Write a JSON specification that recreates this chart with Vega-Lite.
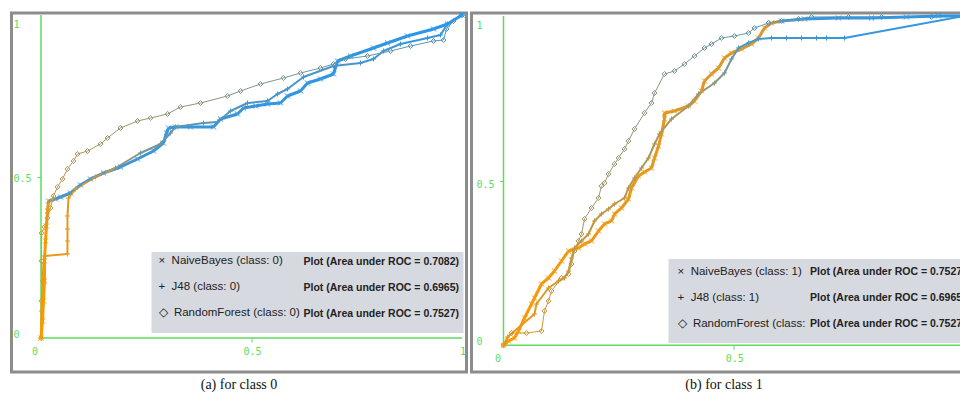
{
  "$schema": "https://vega.github.io/schema/vega-lite/v6.json",
  "background": "white",
  "padding": {"left": 9.5, "top": 8, "right": 0, "bottom": 0},
  "spacing": 1,
  "config": {
    "view": {"stroke": "#8c8c8c", "strokeWidth": 3},
    "title": {"font": "Liberation Serif", "fontSize": 14, "fontWeight": "normal", "color": "#111111", "orient": "bottom", "offset": 6, "anchor": "middle"}
  },
  "datasets": {
    "rocA": [
      {"classifier": "NaiveBayes", "fpr": 0, "tpr": 0, "threshold": 1},
      {"classifier": "NaiveBayes", "fpr": 0.0036, "tpr": 0.0526, "threshold": 0.99},
      {"classifier": "NaiveBayes", "fpr": 0.0059, "tpr": 0.1146, "threshold": 0.98},
      {"classifier": "NaiveBayes", "fpr": 0.0083, "tpr": 0.1765, "threshold": 0.97},
      {"classifier": "NaiveBayes", "fpr": 0.0083, "tpr": 0.2384, "threshold": 0.96},
      {"classifier": "NaiveBayes", "fpr": 0.0107, "tpr": 0.3003, "threshold": 0.95},
      {"classifier": "NaiveBayes", "fpr": 0.0131, "tpr": 0.3467, "threshold": 0.93},
      {"classifier": "NaiveBayes", "fpr": 0.0154, "tpr": 0.3932, "threshold": 0.9},
      {"classifier": "NaiveBayes", "fpr": 0.0178, "tpr": 0.4241, "threshold": 0.5},
      {"classifier": "NaiveBayes", "fpr": 0.0344, "tpr": 0.4303, "threshold": 0.14},
      {"classifier": "NaiveBayes", "fpr": 0.0463, "tpr": 0.4365, "threshold": 0.12},
      {"classifier": "NaiveBayes", "fpr": 0.0701, "tpr": 0.4489, "threshold": 0.11},
      {"classifier": "NaiveBayes", "fpr": 0.0938, "tpr": 0.4737, "threshold": 0.1},
      {"classifier": "NaiveBayes", "fpr": 0.1176, "tpr": 0.4923, "threshold": 0.1},
      {"classifier": "NaiveBayes", "fpr": 0.1485, "tpr": 0.5108, "threshold": 0.09},
      {"classifier": "NaiveBayes", "fpr": 0.1888, "tpr": 0.5294, "threshold": 0.09},
      {"classifier": "NaiveBayes", "fpr": 0.2292, "tpr": 0.5542, "threshold": 0.08},
      {"classifier": "NaiveBayes", "fpr": 0.2672, "tpr": 0.5789, "threshold": 0.08},
      {"classifier": "NaiveBayes", "fpr": 0.291, "tpr": 0.6037, "threshold": 0.07},
      {"classifier": "NaiveBayes", "fpr": 0.2981, "tpr": 0.6347, "threshold": 0.07},
      {"classifier": "NaiveBayes", "fpr": 0.3029, "tpr": 0.6502, "threshold": 0.07},
      {"classifier": "NaiveBayes", "fpr": 0.3195, "tpr": 0.6533, "threshold": 0.06},
      {"classifier": "NaiveBayes", "fpr": 0.3551, "tpr": 0.6533, "threshold": 0.06},
      {"classifier": "NaiveBayes", "fpr": 0.4097, "tpr": 0.6533, "threshold": 0.06},
      {"classifier": "NaiveBayes", "fpr": 0.4264, "tpr": 0.678, "threshold": 0.05},
      {"classifier": "NaiveBayes", "fpr": 0.4667, "tpr": 0.6935, "threshold": 0.05},
      {"classifier": "NaiveBayes", "fpr": 0.481, "tpr": 0.7121, "threshold": 0.05},
      {"classifier": "NaiveBayes", "fpr": 0.5095, "tpr": 0.7183, "threshold": 0.04},
      {"classifier": "NaiveBayes", "fpr": 0.538, "tpr": 0.7245, "threshold": 0.04},
      {"classifier": "NaiveBayes", "fpr": 0.5689, "tpr": 0.7276, "threshold": 0.04},
      {"classifier": "NaiveBayes", "fpr": 0.5855, "tpr": 0.7492, "threshold": 0.03},
      {"classifier": "NaiveBayes", "fpr": 0.6164, "tpr": 0.7647, "threshold": 0.03},
      {"classifier": "NaiveBayes", "fpr": 0.633, "tpr": 0.7895, "threshold": 0.03},
      {"classifier": "NaiveBayes", "fpr": 0.6639, "tpr": 0.8019, "threshold": 0.03},
      {"classifier": "NaiveBayes", "fpr": 0.6948, "tpr": 0.8173, "threshold": 0.02},
      {"classifier": "NaiveBayes", "fpr": 0.7043, "tpr": 0.8576, "threshold": 0.02},
      {"classifier": "NaiveBayes", "fpr": 0.7352, "tpr": 0.8731, "threshold": 0.02},
      {"classifier": "NaiveBayes", "fpr": 0.7898, "tpr": 0.8978, "threshold": 0.02},
      {"classifier": "NaiveBayes", "fpr": 0.823, "tpr": 0.9133, "threshold": 0.01},
      {"classifier": "NaiveBayes", "fpr": 0.8705, "tpr": 0.935, "threshold": 0.01},
      {"classifier": "NaiveBayes", "fpr": 0.9323, "tpr": 0.9567, "threshold": 0.01},
      {"classifier": "NaiveBayes", "fpr": 0.9656, "tpr": 0.9721, "threshold": 0},
      {"classifier": "NaiveBayes", "fpr": 1, "tpr": 1, "threshold": 0},
      {"classifier": "J48", "fpr": 0, "tpr": 0, "threshold": 0.95},
      {"classifier": "J48", "fpr": 0.0012, "tpr": 0.0836, "threshold": 0.94},
      {"classifier": "J48", "fpr": 0.0036, "tpr": 0.1765, "threshold": 0.93},
      {"classifier": "J48", "fpr": 0.0059, "tpr": 0.2322, "threshold": 0.92},
      {"classifier": "J48", "fpr": 0.0083, "tpr": 0.2539, "threshold": 0.9},
      {"classifier": "J48", "fpr": 0.0629, "tpr": 0.2601, "threshold": 0.89},
      {"classifier": "J48", "fpr": 0.0629, "tpr": 0.3003, "threshold": 0.88},
      {"classifier": "J48", "fpr": 0.0629, "tpr": 0.3375, "threshold": 0.87},
      {"classifier": "J48", "fpr": 0.0629, "tpr": 0.3777, "threshold": 0.86},
      {"classifier": "J48", "fpr": 0.0653, "tpr": 0.4334, "threshold": 0.85},
      {"classifier": "J48", "fpr": 0.0819, "tpr": 0.4613, "threshold": 0.8},
      {"classifier": "J48", "fpr": 0.1295, "tpr": 0.4985, "threshold": 0.7},
      {"classifier": "J48", "fpr": 0.177, "tpr": 0.5263, "threshold": 0.45},
      {"classifier": "J48", "fpr": 0.2363, "tpr": 0.5728, "threshold": 0.35},
      {"classifier": "J48", "fpr": 0.2838, "tpr": 0.6006, "threshold": 0.3},
      {"classifier": "J48", "fpr": 0.3076, "tpr": 0.6347, "threshold": 0.28},
      {"classifier": "J48", "fpr": 0.3195, "tpr": 0.6533, "threshold": 0.26},
      {"classifier": "J48", "fpr": 0.386, "tpr": 0.6656, "threshold": 0.24},
      {"classifier": "J48", "fpr": 0.4192, "tpr": 0.6687, "threshold": 0.22},
      {"classifier": "J48", "fpr": 0.4501, "tpr": 0.7028, "threshold": 0.2},
      {"classifier": "J48", "fpr": 0.4905, "tpr": 0.7276, "threshold": 0.18},
      {"classifier": "J48", "fpr": 0.538, "tpr": 0.7337, "threshold": 0.16},
      {"classifier": "J48", "fpr": 0.5618, "tpr": 0.7554, "threshold": 0.15},
      {"classifier": "J48", "fpr": 0.5855, "tpr": 0.7709, "threshold": 0.14},
      {"classifier": "J48", "fpr": 0.6235, "tpr": 0.808, "threshold": 0.13},
      {"classifier": "J48", "fpr": 0.6948, "tpr": 0.8421, "threshold": 0.12},
      {"classifier": "J48", "fpr": 0.7589, "tpr": 0.8514, "threshold": 0.1},
      {"classifier": "J48", "fpr": 0.7898, "tpr": 0.8638, "threshold": 0.09},
      {"classifier": "J48", "fpr": 0.8135, "tpr": 0.8885, "threshold": 0.08},
      {"classifier": "J48", "fpr": 0.8539, "tpr": 0.9102, "threshold": 0.07},
      {"classifier": "J48", "fpr": 0.9181, "tpr": 0.9288, "threshold": 0.05},
      {"classifier": "J48", "fpr": 0.9489, "tpr": 0.9381, "threshold": 0.04},
      {"classifier": "J48", "fpr": 0.9656, "tpr": 0.9721, "threshold": 0.02},
      {"classifier": "J48", "fpr": 1, "tpr": 1, "threshold": 0},
      {"classifier": "RandomForest", "fpr": 0, "tpr": 0, "threshold": 0.95},
      {"classifier": "RandomForest", "fpr": 0.0012, "tpr": 0.1146, "threshold": 0.92},
      {"classifier": "RandomForest", "fpr": 0.0012, "tpr": 0.2384, "threshold": 0.9},
      {"classifier": "RandomForest", "fpr": 0.0012, "tpr": 0.3251, "threshold": 0.88},
      {"classifier": "RandomForest", "fpr": 0.0083, "tpr": 0.3437, "threshold": 0.85},
      {"classifier": "RandomForest", "fpr": 0.0154, "tpr": 0.3715, "threshold": 0.8},
      {"classifier": "RandomForest", "fpr": 0.0226, "tpr": 0.4025, "threshold": 0.75},
      {"classifier": "RandomForest", "fpr": 0.0297, "tpr": 0.4396, "threshold": 0.7},
      {"classifier": "RandomForest", "fpr": 0.0392, "tpr": 0.4675, "threshold": 0.68},
      {"classifier": "RandomForest", "fpr": 0.0511, "tpr": 0.4923, "threshold": 0.66},
      {"classifier": "RandomForest", "fpr": 0.0629, "tpr": 0.5232, "threshold": 0.64},
      {"classifier": "RandomForest", "fpr": 0.0772, "tpr": 0.548, "threshold": 0.62},
      {"classifier": "RandomForest", "fpr": 0.0867, "tpr": 0.5697, "threshold": 0.6},
      {"classifier": "RandomForest", "fpr": 0.1105, "tpr": 0.5789, "threshold": 0.58},
      {"classifier": "RandomForest", "fpr": 0.1413, "tpr": 0.6006, "threshold": 0.56},
      {"classifier": "RandomForest", "fpr": 0.158, "tpr": 0.6192, "threshold": 0.55},
      {"classifier": "RandomForest", "fpr": 0.1888, "tpr": 0.6502, "threshold": 0.53},
      {"classifier": "RandomForest", "fpr": 0.2292, "tpr": 0.6718, "threshold": 0.51},
      {"classifier": "RandomForest", "fpr": 0.2601, "tpr": 0.6811, "threshold": 0.5},
      {"classifier": "RandomForest", "fpr": 0.3005, "tpr": 0.6935, "threshold": 0.48},
      {"classifier": "RandomForest", "fpr": 0.3314, "tpr": 0.7152, "threshold": 0.46},
      {"classifier": "RandomForest", "fpr": 0.3789, "tpr": 0.7276, "threshold": 0.44},
      {"classifier": "RandomForest", "fpr": 0.443, "tpr": 0.7492, "threshold": 0.42},
      {"classifier": "RandomForest", "fpr": 0.4739, "tpr": 0.7647, "threshold": 0.4},
      {"classifier": "RandomForest", "fpr": 0.5214, "tpr": 0.7864, "threshold": 0.38},
      {"classifier": "RandomForest", "fpr": 0.576, "tpr": 0.805, "threshold": 0.36},
      {"classifier": "RandomForest", "fpr": 0.6164, "tpr": 0.8204, "threshold": 0.34},
      {"classifier": "RandomForest", "fpr": 0.6639, "tpr": 0.8359, "threshold": 0.32},
      {"classifier": "RandomForest", "fpr": 0.6948, "tpr": 0.8483, "threshold": 0.3},
      {"classifier": "RandomForest", "fpr": 0.7233, "tpr": 0.8638, "threshold": 0.28},
      {"classifier": "RandomForest", "fpr": 0.7755, "tpr": 0.8731, "threshold": 0.26},
      {"classifier": "RandomForest", "fpr": 0.8302, "tpr": 0.8885, "threshold": 0.24},
      {"classifier": "RandomForest", "fpr": 0.8777, "tpr": 0.904, "threshold": 0.22},
      {"classifier": "RandomForest", "fpr": 0.9323, "tpr": 0.9195, "threshold": 0.2},
      {"classifier": "RandomForest", "fpr": 0.9561, "tpr": 0.9226, "threshold": 0.18},
      {"classifier": "RandomForest", "fpr": 0.9632, "tpr": 0.9567, "threshold": 0.15},
      {"classifier": "RandomForest", "fpr": 0.9798, "tpr": 0.9814, "threshold": 0.1},
      {"classifier": "RandomForest", "fpr": 1, "tpr": 1, "threshold": 0.05}
    ],
    "rocB": [
      {"classifier": "NaiveBayes", "fpr": 0, "tpr": 0, "threshold": 1},
      {"classifier": "NaiveBayes", "fpr": 0.0109, "tpr": 0.0131, "threshold": 0.99},
      {"classifier": "NaiveBayes", "fpr": 0.0239, "tpr": 0.0222, "threshold": 0.99},
      {"classifier": "NaiveBayes", "fpr": 0.0326, "tpr": 0.0434, "threshold": 0.98},
      {"classifier": "NaiveBayes", "fpr": 0.0457, "tpr": 0.0829, "threshold": 0.98},
      {"classifier": "NaiveBayes", "fpr": 0.0609, "tpr": 0.1254, "threshold": 0.97},
      {"classifier": "NaiveBayes", "fpr": 0.0674, "tpr": 0.1436, "threshold": 0.97},
      {"classifier": "NaiveBayes", "fpr": 0.0826, "tpr": 0.1862, "threshold": 0.96},
      {"classifier": "NaiveBayes", "fpr": 0.0978, "tpr": 0.2044, "threshold": 0.96},
      {"classifier": "NaiveBayes", "fpr": 0.1109, "tpr": 0.2256, "threshold": 0.95},
      {"classifier": "NaiveBayes", "fpr": 0.1261, "tpr": 0.256, "threshold": 0.95},
      {"classifier": "NaiveBayes", "fpr": 0.1413, "tpr": 0.2864, "threshold": 0.94},
      {"classifier": "NaiveBayes", "fpr": 0.163, "tpr": 0.2955, "threshold": 0.94},
      {"classifier": "NaiveBayes", "fpr": 0.1761, "tpr": 0.3077, "threshold": 0.93},
      {"classifier": "NaiveBayes", "fpr": 0.1913, "tpr": 0.3168, "threshold": 0.93},
      {"classifier": "NaiveBayes", "fpr": 0.2065, "tpr": 0.3471, "threshold": 0.92},
      {"classifier": "NaiveBayes", "fpr": 0.2196, "tpr": 0.3684, "threshold": 0.92},
      {"classifier": "NaiveBayes", "fpr": 0.2348, "tpr": 0.3775, "threshold": 0.91},
      {"classifier": "NaiveBayes", "fpr": 0.2413, "tpr": 0.3987, "threshold": 0.91},
      {"classifier": "NaiveBayes", "fpr": 0.2565, "tpr": 0.417, "threshold": 0.9},
      {"classifier": "NaiveBayes", "fpr": 0.2717, "tpr": 0.4443, "threshold": 0.9},
      {"classifier": "NaiveBayes", "fpr": 0.2783, "tpr": 0.4777, "threshold": 0.9},
      {"classifier": "NaiveBayes", "fpr": 0.2935, "tpr": 0.5142, "threshold": 0.89},
      {"classifier": "NaiveBayes", "fpr": 0.3065, "tpr": 0.5263, "threshold": 0.89},
      {"classifier": "NaiveBayes", "fpr": 0.3217, "tpr": 0.5384, "threshold": 0.88},
      {"classifier": "NaiveBayes", "fpr": 0.3283, "tpr": 0.5688, "threshold": 0.88},
      {"classifier": "NaiveBayes", "fpr": 0.337, "tpr": 0.6052, "threshold": 0.88},
      {"classifier": "NaiveBayes", "fpr": 0.3435, "tpr": 0.6417, "threshold": 0.87},
      {"classifier": "NaiveBayes", "fpr": 0.35, "tpr": 0.6873, "threshold": 0.87},
      {"classifier": "NaiveBayes", "fpr": 0.35, "tpr": 0.7055, "threshold": 0.87},
      {"classifier": "NaiveBayes", "fpr": 0.3717, "tpr": 0.7115, "threshold": 0.86},
      {"classifier": "NaiveBayes", "fpr": 0.4022, "tpr": 0.7267, "threshold": 0.86},
      {"classifier": "NaiveBayes", "fpr": 0.4152, "tpr": 0.7419, "threshold": 0.86},
      {"classifier": "NaiveBayes", "fpr": 0.4304, "tpr": 0.7722, "threshold": 0.85},
      {"classifier": "NaiveBayes", "fpr": 0.437, "tpr": 0.8026, "threshold": 0.85},
      {"classifier": "NaiveBayes", "fpr": 0.4522, "tpr": 0.8239, "threshold": 0.85},
      {"classifier": "NaiveBayes", "fpr": 0.4674, "tpr": 0.8421, "threshold": 0.84},
      {"classifier": "NaiveBayes", "fpr": 0.4804, "tpr": 0.8725, "threshold": 0.84},
      {"classifier": "NaiveBayes", "fpr": 0.4957, "tpr": 0.8876, "threshold": 0.84},
      {"classifier": "NaiveBayes", "fpr": 0.5174, "tpr": 0.8998, "threshold": 0.83},
      {"classifier": "NaiveBayes", "fpr": 0.5391, "tpr": 0.915, "threshold": 0.83},
      {"classifier": "NaiveBayes", "fpr": 0.5543, "tpr": 0.9332, "threshold": 0.82},
      {"classifier": "NaiveBayes", "fpr": 0.5674, "tpr": 0.9636, "threshold": 0.8},
      {"classifier": "NaiveBayes", "fpr": 0.5826, "tpr": 0.9788, "threshold": 0.75},
      {"classifier": "NaiveBayes", "fpr": 0.6043, "tpr": 0.9848, "threshold": 0.2},
      {"classifier": "NaiveBayes", "fpr": 0.6543, "tpr": 0.9909, "threshold": 0.1},
      {"classifier": "NaiveBayes", "fpr": 0.7283, "tpr": 0.9939, "threshold": 0.08},
      {"classifier": "NaiveBayes", "fpr": 0.8, "tpr": 0.9939, "threshold": 0.06},
      {"classifier": "NaiveBayes", "fpr": 0.8761, "tpr": 0.997, "threshold": 0.04},
      {"classifier": "NaiveBayes", "fpr": 0.9457, "tpr": 1, "threshold": 0.02},
      {"classifier": "NaiveBayes", "fpr": 1, "tpr": 1, "threshold": 0},
      {"classifier": "J48", "fpr": 0, "tpr": 0, "threshold": 0.9},
      {"classifier": "J48", "fpr": 0.0087, "tpr": 0.0252, "threshold": 0.88},
      {"classifier": "J48", "fpr": 0.0674, "tpr": 0.095, "threshold": 0.85},
      {"classifier": "J48", "fpr": 0.0717, "tpr": 0.1254, "threshold": 0.84},
      {"classifier": "J48", "fpr": 0.0978, "tpr": 0.174, "threshold": 0.8},
      {"classifier": "J48", "fpr": 0.1196, "tpr": 0.1953, "threshold": 0.78},
      {"classifier": "J48", "fpr": 0.1326, "tpr": 0.2044, "threshold": 0.77},
      {"classifier": "J48", "fpr": 0.1413, "tpr": 0.2256, "threshold": 0.76},
      {"classifier": "J48", "fpr": 0.1478, "tpr": 0.2651, "threshold": 0.75},
      {"classifier": "J48", "fpr": 0.1543, "tpr": 0.2955, "threshold": 0.74},
      {"classifier": "J48", "fpr": 0.1696, "tpr": 0.3167, "threshold": 0.73},
      {"classifier": "J48", "fpr": 0.1848, "tpr": 0.338, "threshold": 0.72},
      {"classifier": "J48", "fpr": 0.1978, "tpr": 0.3775, "threshold": 0.71},
      {"classifier": "J48", "fpr": 0.213, "tpr": 0.3987, "threshold": 0.7},
      {"classifier": "J48", "fpr": 0.2283, "tpr": 0.4139, "threshold": 0.69},
      {"classifier": "J48", "fpr": 0.2413, "tpr": 0.4291, "threshold": 0.68},
      {"classifier": "J48", "fpr": 0.263, "tpr": 0.4473, "threshold": 0.67},
      {"classifier": "J48", "fpr": 0.2717, "tpr": 0.4777, "threshold": 0.66},
      {"classifier": "J48", "fpr": 0.2848, "tpr": 0.5081, "threshold": 0.65},
      {"classifier": "J48", "fpr": 0.3, "tpr": 0.5385, "threshold": 0.64},
      {"classifier": "J48", "fpr": 0.3152, "tpr": 0.5688, "threshold": 0.63},
      {"classifier": "J48", "fpr": 0.3283, "tpr": 0.6113, "threshold": 0.62},
      {"classifier": "J48", "fpr": 0.3391, "tpr": 0.6417, "threshold": 0.61},
      {"classifier": "J48", "fpr": 0.3652, "tpr": 0.6873, "threshold": 0.58},
      {"classifier": "J48", "fpr": 0.4022, "tpr": 0.7267, "threshold": 0.55},
      {"classifier": "J48", "fpr": 0.4239, "tpr": 0.7631, "threshold": 0.52},
      {"classifier": "J48", "fpr": 0.4587, "tpr": 0.7965, "threshold": 0.45},
      {"classifier": "J48", "fpr": 0.4804, "tpr": 0.8269, "threshold": 0.35},
      {"classifier": "J48", "fpr": 0.4957, "tpr": 0.8695, "threshold": 0.25},
      {"classifier": "J48", "fpr": 0.5109, "tpr": 0.9029, "threshold": 0.18},
      {"classifier": "J48", "fpr": 0.5326, "tpr": 0.918, "threshold": 0.15},
      {"classifier": "J48", "fpr": 0.5543, "tpr": 0.9302, "threshold": 0.12},
      {"classifier": "J48", "fpr": 0.5826, "tpr": 0.9332, "threshold": 0.11},
      {"classifier": "J48", "fpr": 0.6152, "tpr": 0.9332, "threshold": 0.1},
      {"classifier": "J48", "fpr": 0.6478, "tpr": 0.9332, "threshold": 0.09},
      {"classifier": "J48", "fpr": 0.6804, "tpr": 0.9332, "threshold": 0.08},
      {"classifier": "J48", "fpr": 0.7022, "tpr": 0.9332, "threshold": 0.07},
      {"classifier": "J48", "fpr": 0.7413, "tpr": 0.9332, "threshold": 0.06},
      {"classifier": "J48", "fpr": 1, "tpr": 1, "threshold": 0},
      {"classifier": "RandomForest", "fpr": 0, "tpr": 0, "threshold": 0.85},
      {"classifier": "RandomForest", "fpr": 0.0174, "tpr": 0.0374, "threshold": 0.82},
      {"classifier": "RandomForest", "fpr": 0.05, "tpr": 0.0374, "threshold": 0.8},
      {"classifier": "RandomForest", "fpr": 0.0826, "tpr": 0.0434, "threshold": 0.78},
      {"classifier": "RandomForest", "fpr": 0.0891, "tpr": 0.1042, "threshold": 0.76},
      {"classifier": "RandomForest", "fpr": 0.0978, "tpr": 0.1345, "threshold": 0.75},
      {"classifier": "RandomForest", "fpr": 0.1043, "tpr": 0.1649, "threshold": 0.74},
      {"classifier": "RandomForest", "fpr": 0.1261, "tpr": 0.2044, "threshold": 0.72},
      {"classifier": "RandomForest", "fpr": 0.1413, "tpr": 0.2165, "threshold": 0.7},
      {"classifier": "RandomForest", "fpr": 0.1478, "tpr": 0.2469, "threshold": 0.68},
      {"classifier": "RandomForest", "fpr": 0.1543, "tpr": 0.2864, "threshold": 0.66},
      {"classifier": "RandomForest", "fpr": 0.163, "tpr": 0.3168, "threshold": 0.64},
      {"classifier": "RandomForest", "fpr": 0.1696, "tpr": 0.338, "threshold": 0.62},
      {"classifier": "RandomForest", "fpr": 0.1761, "tpr": 0.3836, "threshold": 0.6},
      {"classifier": "RandomForest", "fpr": 0.1913, "tpr": 0.417, "threshold": 0.58},
      {"classifier": "RandomForest", "fpr": 0.2065, "tpr": 0.4473, "threshold": 0.56},
      {"classifier": "RandomForest", "fpr": 0.213, "tpr": 0.4838, "threshold": 0.55},
      {"classifier": "RandomForest", "fpr": 0.2196, "tpr": 0.4929, "threshold": 0.54},
      {"classifier": "RandomForest", "fpr": 0.2283, "tpr": 0.5202, "threshold": 0.53},
      {"classifier": "RandomForest", "fpr": 0.2413, "tpr": 0.5506, "threshold": 0.52},
      {"classifier": "RandomForest", "fpr": 0.25, "tpr": 0.5688, "threshold": 0.51},
      {"classifier": "RandomForest", "fpr": 0.263, "tpr": 0.5962, "threshold": 0.5},
      {"classifier": "RandomForest", "fpr": 0.2717, "tpr": 0.6205, "threshold": 0.49},
      {"classifier": "RandomForest", "fpr": 0.2848, "tpr": 0.6569, "threshold": 0.48},
      {"classifier": "RandomForest", "fpr": 0.3065, "tpr": 0.7055, "threshold": 0.46},
      {"classifier": "RandomForest", "fpr": 0.3217, "tpr": 0.7358, "threshold": 0.45},
      {"classifier": "RandomForest", "fpr": 0.3283, "tpr": 0.7662, "threshold": 0.44},
      {"classifier": "RandomForest", "fpr": 0.35, "tpr": 0.8239, "threshold": 0.42},
      {"classifier": "RandomForest", "fpr": 0.3717, "tpr": 0.833, "threshold": 0.4},
      {"classifier": "RandomForest", "fpr": 0.3935, "tpr": 0.8543, "threshold": 0.38},
      {"classifier": "RandomForest", "fpr": 0.4152, "tpr": 0.8785, "threshold": 0.36},
      {"classifier": "RandomForest", "fpr": 0.437, "tpr": 0.9028, "threshold": 0.34},
      {"classifier": "RandomForest", "fpr": 0.4522, "tpr": 0.915, "threshold": 0.32},
      {"classifier": "RandomForest", "fpr": 0.4739, "tpr": 0.9332, "threshold": 0.3},
      {"classifier": "RandomForest", "fpr": 0.5022, "tpr": 0.9393, "threshold": 0.28},
      {"classifier": "RandomForest", "fpr": 0.5326, "tpr": 0.9484, "threshold": 0.26},
      {"classifier": "RandomForest", "fpr": 0.5457, "tpr": 0.9636, "threshold": 0.24},
      {"classifier": "RandomForest", "fpr": 0.5761, "tpr": 0.9788, "threshold": 0.2},
      {"classifier": "RandomForest", "fpr": 0.6043, "tpr": 0.9848, "threshold": 0.18},
      {"classifier": "RandomForest", "fpr": 0.6413, "tpr": 0.9909, "threshold": 0.15},
      {"classifier": "RandomForest", "fpr": 0.6696, "tpr": 0.997, "threshold": 0.12},
      {"classifier": "RandomForest", "fpr": 0.75, "tpr": 0.997, "threshold": 0.1},
      {"classifier": "RandomForest", "fpr": 0.8217, "tpr": 0.997, "threshold": 0.08},
      {"classifier": "RandomForest", "fpr": 0.9304, "tpr": 0.997, "threshold": 0.05},
      {"classifier": "RandomForest", "fpr": 1, "tpr": 1, "threshold": 0.02}
    ],
    "legendA": [
      {"rank": 1, "label": "×\u00a0 NaiveBayes (class: 0)", "auc": "Plot (Area under ROC = 0.7082)"},
      {"rank": 2, "label": "+\u00a0 J48 (class: 0)", "auc": "Plot (Area under ROC = 0.6965)"},
      {"rank": 3, "label": "◇\u00a0 RandomForest (class: 0)", "auc": "Plot (Area under ROC = 0.7527)"}
    ],
    "legendB": [
      {"rank": 1, "label": "×\u00a0 NaiveBayes (class: 1)", "auc": "Plot (Area under ROC = 0.7527)"},
      {"rank": 2, "label": "+\u00a0 J48 (class: 1)", "auc": "Plot (Area under ROC = 0.6965)"},
      {"rank": 3, "label": "◇\u00a0 RandomForest (class: 1)", "auc": "Plot (Area under ROC = 0.7527)"}
    ]
  },
  "hconcat": [
    {
      "width": 455,
      "height": 359,
      "title": {"text": "(a) for class 0"},
      "layer": [
        {
          "data": {"values": [{}]},
          "mark": {"type": "rule", "color": "#5ddc5d", "strokeWidth": 1.5},
          "encoding": {"x": {"datum": 0}, "x2": {"datum": 1}, "y": {"datum": 0}}
        },
        {
          "data": {"values": [{}]},
          "mark": {"type": "rule", "color": "#5ddc5d", "strokeWidth": 1.5},
          "encoding": {"x": {"datum": 0}, "y": {"datum": 0}, "y2": {"datum": 1}}
        },
        {
          "data": {"name": "rocA"},
          "transform": [
            {"window": [{"op": "lead", "field": "fpr", "as": "fpr2"}, {"op": "lead", "field": "tpr", "as": "tpr2"}], "groupby": ["classifier"]},
            {"filter": "datum.fpr2 != null"}
          ],
          "mark": {"type": "rule"},
          "encoding": {
            "x": {"field": "fpr", "type": "quantitative", "title": null,
              "scale": {"domain": [-0.07007, 1.01069], "nice": false, "zero": false},
              "axis": {"orient": "bottom", "offset": -34, "values": [0, 0.5, 1], "format": "~g", "domain": false, "grid": false,
                "tickSize": 4, "tickColor": "#5ddc5d", "tickOpacity": {"condition": {"test": "datum.value == 0.5", "value": 1}, "value": 0},
                "labelFont": "DejaVu Sans Mono", "labelFontSize": 10, "labelColor": "#5ddc5d", "labelPadding": 4,
                "labelOffset": {"condition": {"test": "datum.value == 0", "value": -6.5}, "value": 0.5},
                "labelFlush": false, "labelOverlap": false, "labelBound": false}},
            "y": {"field": "tpr", "type": "quantitative", "title": null,
              "scale": {"domain": [-0.10526, 1.00619], "nice": false, "zero": false},
              "axis": {"orient": "left", "offset": -29.5, "values": [0, 0.5, 1], "format": "~g", "domain": false, "grid": false,
                "tickSize": 4, "tickColor": "#5ddc5d", "tickOpacity": {"condition": {"test": "datum.value == 0.5", "value": 1}, "value": 0},
                "labelFont": "DejaVu Sans Mono", "labelFontSize": 10, "labelColor": "#5ddc5d", "labelPadding": 24, "labelAlign": "left", "labelBaseline": "middle",
                "labelOffset": {"condition": [{"test": "datum.value == 1", "value": 9.5}, {"test": "datum.value == 0", "value": -4}], "value": 1.5},
                "labelFlush": false, "labelOverlap": false, "labelBound": false}},
            "x2": {"field": "fpr2"},
            "y2": {"field": "tpr2"},
            "color": {"field": "threshold", "type": "quantitative", "legend": null,
              "scale": {"domain": [0, 1], "range": ["#2a96ea", "#ff9800"], "interpolate": "rgb"}},
            "strokeWidth": {"field": "classifier", "type": "nominal", "legend": null,
              "scale": {"domain": ["NaiveBayes", "J48", "RandomForest"], "range": [3, 1, 1]}}
          }
        },
        {
          "data": {"name": "rocA"},
          "mark": {"type": "point", "filled": false, "strokeWidth": 1, "size": 26, "opacity": 1},
          "encoding": {
            "x": {"field": "fpr", "type": "quantitative", "title": null},
            "y": {"field": "tpr", "type": "quantitative", "title": null},
            "color": {"field": "threshold", "type": "quantitative", "legend": null},
            "shape": {"field": "classifier", "type": "nominal", "legend": null,
              "scale": {"domain": ["NaiveBayes", "J48", "RandomForest"], "range": ["M-1,-1L1,1M-1,1L1,-1", "M-1,0L1,0M0,-1L0,1", "M0,-1L1,0L0,1L-1,0Z"]}}
          }
        },
        {
          "data": {"values": [{}]},
          "mark": {"type": "rect", "color": "#d6d9df"},
          "encoding": {"x": {"datum": 0.2625}, "x2": {"datum": 1.0036}, "y": {"datum": 0.0155}, "y2": {"datum": 0.2663}}
        },
        {
          "data": {"name": "legendA"},
          "mark": {"type": "text", "align": "left", "baseline": "middle", "font": "Liberation Sans", "fontSize": 11.5, "color": "#222222"},
          "encoding": {
            "x": {"datum": 0.2791},
            "y": {"datum": 0.2384},
            "yOffset": {"field": "rank", "type": "quantitative", "scale": {"domain": [1, 3], "range": [0, 52]}},
            "text": {"field": "label"}
          }
        },
        {
          "data": {"name": "legendA"},
          "mark": {"type": "text", "align": "left", "baseline": "middle", "font": "Liberation Sans", "fontWeight": "bold", "fontSize": 10.5, "color": "#222222"},
          "encoding": {
            "x": {"datum": 0.6235},
            "y": {"datum": 0.2353},
            "yOffset": {"field": "rank", "type": "quantitative", "scale": {"domain": [1, 3], "range": [0, 52]}},
            "text": {"field": "auc"}
          }
        }
      ]
    },
    {
      "width": 505,
      "height": 359,
      "title": {"text": "(b) for class 1"},
      "layer": [
        {
          "data": {"values": [{}]},
          "mark": {"type": "rule", "color": "#5ddc5d", "strokeWidth": 1.5},
          "encoding": {"x": {"datum": 0}, "x2": {"datum": 1}, "y": {"datum": 0}}
        },
        {
          "data": {"values": [{}]},
          "mark": {"type": "rule", "color": "#5ddc5d", "strokeWidth": 1.5},
          "encoding": {"x": {"datum": 0}, "y": {"datum": 0}, "y2": {"datum": 1}}
        },
        {
          "data": {"name": "rocB"},
          "transform": [
            {"window": [{"op": "lead", "field": "fpr", "as": "fpr2"}, {"op": "lead", "field": "tpr", "as": "tpr2"}], "groupby": ["classifier"]},
            {"filter": "datum.fpr2 != null"}
          ],
          "mark": {"type": "rule"},
          "encoding": {
            "x": {"field": "fpr", "type": "quantitative", "title": null,
              "scale": {"domain": [-0.06957, 1.02826], "nice": false, "zero": false},
              "axis": {"orient": "bottom", "offset": -26.7, "values": [0, 0.5, 1], "format": "~g", "domain": false, "grid": false,
                "tickSize": 4, "tickColor": "#5ddc5d", "tickOpacity": {"condition": {"test": "datum.value == 0.5", "value": 1}, "value": 0},
                "labelFont": "DejaVu Sans Mono", "labelFontSize": 10, "labelColor": "#5ddc5d", "labelPadding": 4,
                "labelOffset": {"condition": {"test": "datum.value == 0", "value": -6}, "value": 0.7},
                "labelFlush": false, "labelOverlap": false, "labelBound": false}},
            "y": {"field": "tpr", "type": "quantitative", "title": null,
              "scale": {"domain": [-0.08108, 1.00911], "nice": false, "zero": false},
              "axis": {"orient": "left", "offset": -32, "values": [0, 0.5, 1], "format": "~g", "domain": false, "grid": false,
                "tickSize": 4, "tickColor": "#5ddc5d", "tickOpacity": {"condition": {"test": "datum.value == 0.5", "value": 1}, "value": 0},
                "labelFont": "DejaVu Sans Mono", "labelFontSize": 10, "labelColor": "#5ddc5d", "labelPadding": 23.5, "labelAlign": "left", "labelBaseline": "middle",
                "labelOffset": {"condition": [{"test": "datum.value == 1", "value": 10}, {"test": "datum.value == 0", "value": -3.6}], "value": 3.5},
                "labelFlush": false, "labelOverlap": false, "labelBound": false}},
            "x2": {"field": "fpr2"},
            "y2": {"field": "tpr2"},
            "color": {"field": "threshold", "type": "quantitative", "legend": null},
            "strokeWidth": {"field": "classifier", "type": "nominal", "legend": null}
          }
        },
        {
          "data": {"name": "rocB"},
          "mark": {"type": "point", "filled": false, "strokeWidth": 1, "size": 26, "opacity": 1},
          "encoding": {
            "x": {"field": "fpr", "type": "quantitative", "title": null},
            "y": {"field": "tpr", "type": "quantitative", "title": null},
            "color": {"field": "threshold", "type": "quantitative", "legend": null},
            "shape": {"field": "classifier", "type": "nominal", "legend": null}
          }
        },
        {
          "data": {"values": [{}]},
          "mark": {"type": "rect", "color": "#d6d9df"},
          "encoding": {"x": {"datum": 0.3587}, "x2": {"datum": 1.0283}, "y": {"datum": 0.007}, "y2": {"datum": 0.2621}}
        },
        {
          "data": {"name": "legendB"},
          "mark": {"type": "text", "align": "left", "baseline": "middle", "font": "Liberation Sans", "fontSize": 11.5, "color": "#222222"},
          "encoding": {
            "x": {"datum": 0.3783},
            "y": {"datum": 0.2211},
            "yOffset": {"field": "rank", "type": "quantitative", "scale": {"domain": [1, 3], "range": [0, 52]}},
            "text": {"field": "label"}
          }
        },
        {
          "data": {"values": [{}]},
          "mark": {"type": "rect", "color": "#d6d9df"},
          "encoding": {"x": {"datum": 0.6625}, "x2": {"datum": 1.0283}, "y": {"datum": 0.007}, "y2": {"datum": 0.2621}}
        },
        {
          "data": {"name": "legendB"},
          "mark": {"type": "text", "align": "left", "baseline": "middle", "font": "Liberation Sans", "fontWeight": "bold", "fontSize": 10.5, "color": "#222222"},
          "encoding": {
            "x": {"datum": 0.6665},
            "y": {"datum": 0.2211},
            "yOffset": {"field": "rank", "type": "quantitative", "scale": {"domain": [1, 3], "range": [0, 52]}},
            "text": {"field": "auc"}
          }
        }
      ]
    }
  ]
}
